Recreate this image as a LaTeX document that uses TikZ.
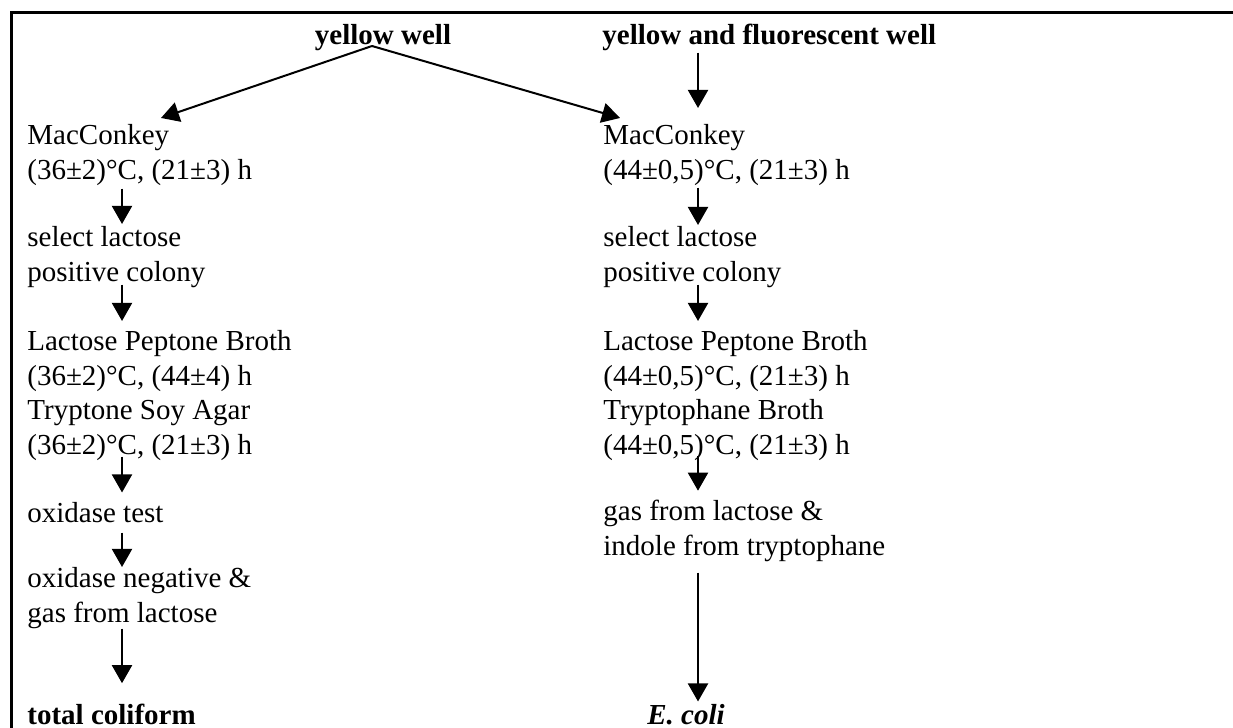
\documentclass[tikz,border=0pt]{standalone}
\usepackage{fontspec}
\setmainfont{Liberation Serif}
\usetikzlibrary{arrows.meta,calc}

\begin{document}
\begin{tikzpicture}[x=0.5pt, y=-0.5pt, >={Triangle[length=9pt,width=10pt]},
    txt/.style={inner sep=0pt, anchor=base west, align=left,
                font=\fontsize{14.5pt}{17.25pt}\selectfont},
    head/.style={txt, font=\fontsize{14.5pt}{17.25pt}\selectfont\bfseries},
    arr/.style={->, line width=1pt}]
  \useasboundingbox (0,0) rectangle (1233,728);
  % --- frame (top and left only) ---
  \draw[line width=1.5pt] (11,728) -- (11,12) -- (1233,12);
  % --- top row ---
  \node[head, anchor=base] (yw) at (383,45) {yellow well};
  \node[head] (yfw) at (602,45) {yellow and fluorescent well};
  \coordinate (fork) at ($(yw.base)+(-11,1)$);
  % --- left column: total coliform (placed at last baseline) ---
  \node[txt] (L1) at (27,179) {MacConkey\\(36±2)°C, (21±3) h};
  \node[txt] (L2) at (27,281) {select lactose\\positive colony};
  \node[txt] (L3) at (27,454) {Lactose Peptone Broth\\(36±2)°C, (44±4) h\\Tryptone Soy Agar\\(36±2)°C, (21±3) h};
  \node[txt] (L4) at (27,522) {oxidase test};
  \node[txt] (L5) at (27,622) {oxidase negative \&\\gas from lactose};
  \node[head] (L6) at (27,724) {total coliform};
  % --- right column: E. coli ---
  \node[txt] (R1) at (603,179) {MacConkey\\(44±0,5)°C, (21±3) h};
  \node[txt] (R2) at (603,281) {select lactose\\positive colony};
  \node[txt] (R3) at (603,454) {Lactose Peptone Broth\\(44±0,5)°C, (21±3) h\\Tryptophane Broth\\(44±0,5)°C, (21±3) h};
  \node[txt] (R4) at (603,555) {gas from lactose \&\\indole from tryptophane};
  \node[head] (R5) at (647,724) {\textit{E. coli}};
  % --- arrows ---
  \coordinate (colA) at (122,0);
  \coordinate (colB) at (698,0);
  \draw[arr] (fork) -- ($(L1.north west)+(134,-6)$);
  \draw[arr] (fork) -- ($(R1.north west)+(17,-6)$);
  \draw[arr, shorten <=0.5pt, shorten >=8pt] (colB |- yfw.south) -- (colB |- R1.north);
  % left
  \draw[arr, shorten <=1.5pt, shorten >=1pt] (colA |- L1.south) -- (colA |- L2.north);
  \draw[arr, shorten <=-1.5pt, shorten >=4.5pt] (colA |- L2.south) -- (colA |- L3.north);
  \draw[arr, shorten <=-2pt, shorten >=4.5pt] (colA |- L3.south) -- (colA |- L4.north);
  \draw[arr, shorten <=5pt] (colA |- L4.south) -- (colA |- L5.north);
  \draw[arr, shorten >=10pt] (colA |- L5.south) -- (colA |- L6.north);
  % right
  \draw[arr, shorten <=1pt, shorten >=0.5pt] (colB |- R1.south) -- (colB |- R2.north);
  \draw[arr, shorten <=-1.5pt, shorten >=4.5pt] (colB |- R2.south) -- (colB |- R3.north);
  \draw[arr, shorten <=-2.5pt, shorten >=4.5pt] (colB |- R3.south) -- (colB |- R4.north);
  \draw[arr, shorten <=5.5pt, shorten >=1pt] (colB |- R4.south) -- (colB |- R5.north);
\end{tikzpicture}
\end{document}
